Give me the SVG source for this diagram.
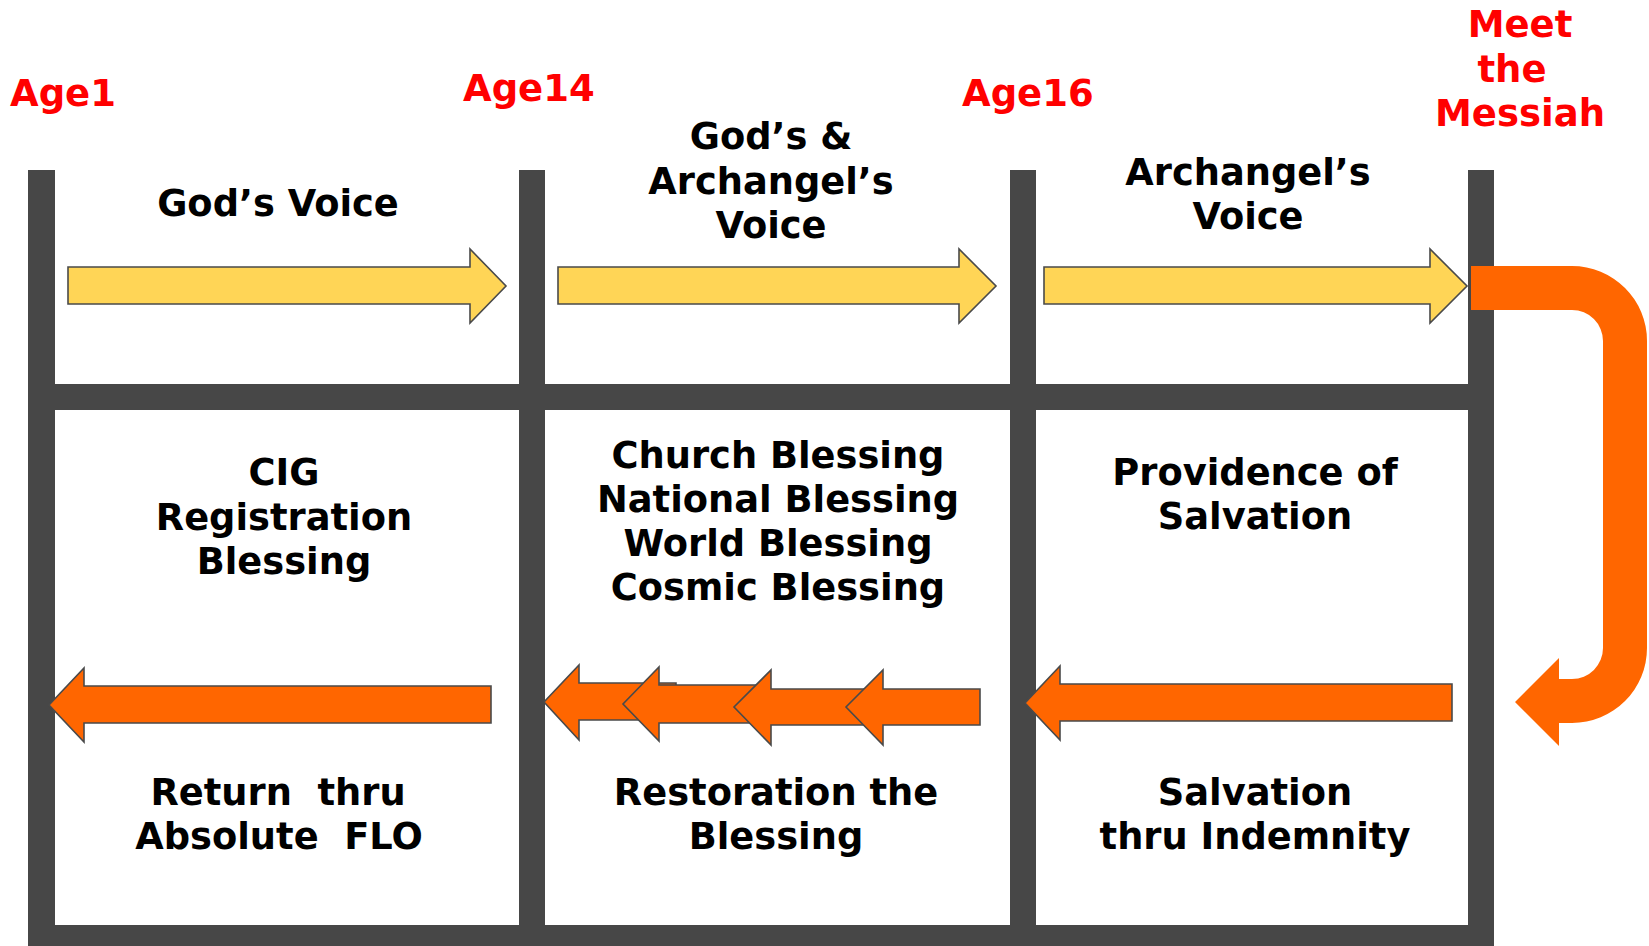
<svg xmlns="http://www.w3.org/2000/svg" width="1649" height="946" viewBox="0 0 1649 946">
<style>
.bar{fill:#474747}
.yel{fill:#FFD556;stroke:#4a4a4a;stroke-width:1.6}
.org{fill:#FF6600;stroke:#4a4a4a;stroke-width:1.6}
.t{font-family:"DejaVu Sans","Verdana",sans-serif;font-weight:bold;font-size:36.8px;text-anchor:middle;fill:#000}
.r{font-family:"DejaVu Sans","Verdana",sans-serif;font-weight:bold;font-size:37px;fill:#FF0000}
</style>
<rect width="1649" height="946" fill="#fff"/>
<g id="frame">
<rect class="bar" x="28" y="170" width="27" height="776"/>
<rect class="bar" x="519" y="170" width="26" height="776"/>
<rect class="bar" x="1010" y="170" width="26" height="776"/>
<rect class="bar" x="1468" y="170" width="26" height="776"/>
<rect class="bar" x="28" y="384" width="1466" height="26"/>
<rect class="bar" x="28" y="925" width="1466" height="21"/>
</g>
<g id="labels-age">
<text class="r" x="10" y="106">Age1</text>
<text class="r" x="463" y="101">Age14</text>
<text class="r" x="962" y="106">Age16</text>
<text class="r" x="1520" y="37" text-anchor="middle">Meet</text>
<text class="r" x="1512" y="82" text-anchor="middle">the</text>
<text class="r" x="1520" y="126" text-anchor="middle">Messiah</text>
</g>
<g id="connectors">
<polygon class="yel" points="68,267 470,267 470,249 506,286 470,323 470,304 68,304"/>
<polygon class="yel" points="558,267 959,267 959,249 996,286 959,323 959,304 558,304"/>
<polygon class="yel" points="1044,267 1430,267 1430,249 1467,286 1430,323 1430,304 1044,304"/>
<path fill="#FF6600" d="M1471,266 H1572 A75,75 0 0 1 1647,341 V648 A75,75 0 0 1 1572,723 H1559 V746 L1515,702 L1559,658 V679 H1572 A31,31 0 0 0 1603,648 V341 A31,31 0 0 0 1572,310 H1471 Z"/>
<polygon class="org" points="491,686 84,686 84,668 49,705 84,742 84,723 491,723"/>
<polygon class="org" points="1452,684 1060,684 1060,666 1025,703 1060,740 1060,721 1452,721"/>
<polygon class="org" points="676,683 579,683 579,665 544,702 579,740 579,720 676,720"/>
<polygon class="org" points="764,685 659,685 659,667 623,704 659,741 659,723 764,723"/>
<polygon class="org" points="876,689 771,689 771,670 734,707 771,745 771,725 876,725"/>
<polygon class="org" points="980,689 883,689 883,670 846,707 883,745 883,725 980,725"/>
</g>
<g id="col1">
<text class="t" x="278" y="216">God’s Voice</text>
<text class="t" x="284" y="485">CIG</text>
<text class="t" x="284" y="530">Registration</text>
<text class="t" x="284" y="574">Blessing</text>
<text class="t" x="278" y="805" xml:space="preserve">Return  thru</text>
<text class="t" x="279" y="849" xml:space="preserve">Absolute  FLO</text>
</g>
<g id="col2">
<text class="t" x="771" y="149">God’s &amp;</text>
<text class="t" x="771" y="194">Archangel’s</text>
<text class="t" x="771" y="238">Voice</text>
<text class="t" x="778" y="468">Church Blessing</text>
<text class="t" x="778" y="512">National Blessing</text>
<text class="t" x="778" y="556">World Blessing</text>
<text class="t" x="778" y="600">Cosmic Blessing</text>
<text class="t" x="776" y="805">Restoration the</text>
<text class="t" x="776" y="849">Blessing</text>
</g>
<g id="col3">
<text class="t" x="1248" y="185">Archangel’s</text>
<text class="t" x="1248" y="229">Voice</text>
<text class="t" x="1255" y="485">Providence of</text>
<text class="t" x="1255" y="529">Salvation</text>
<text class="t" x="1255" y="805">Salvation</text>
<text class="t" x="1255" y="849">thru Indemnity</text>
</g>
</svg>
